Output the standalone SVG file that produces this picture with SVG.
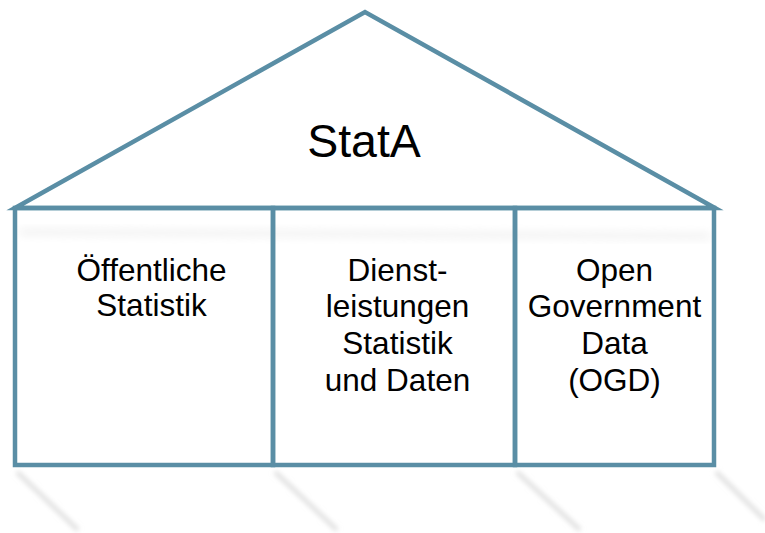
<svg xmlns="http://www.w3.org/2000/svg" width="765" height="533" viewBox="0 0 765 533">
  <defs>
    <style>
      .ln { fill: none; stroke: #5a8ea5; stroke-width: 4.5; stroke-linejoin: miter; stroke-linecap: square; }
      .tx { font-family: "Liberation Sans", Arial, sans-serif; font-size: 31.5px; fill: #000; text-anchor: middle; }
      .title { font-family: "Liberation Sans", Arial, sans-serif; font-size: 46.5px; fill: #000; text-anchor: middle; }
      .sh { stroke: #dcdcdc; stroke-width: 4; fill: none; filter: url(#blur); }
    </style>
    <filter id="blur" x="-50%" y="-50%" width="200%" height="200%">
      <feGaussianBlur stdDeviation="2.6"/>
    </filter>
    <filter id="blur2" x="-10%" y="-200%" width="120%" height="500%">
      <feGaussianBlur stdDeviation="4"/>
    </filter>
  </defs>
  <rect width="765" height="533" fill="#fff"/>

  <g id="reflections">
    <line class="sh" x1="17" y1="472" x2="78" y2="530"/>
    <line class="sh" x1="275" y1="472" x2="337" y2="530"/>
    <line class="sh" x1="517" y1="472" x2="580" y2="530"/>
    <line class="sh" x1="716" y1="472" x2="765" y2="520"/>
    <line x1="20" y1="232" x2="710" y2="236" stroke="#f0f0f0" stroke-width="6" filter="url(#blur2)"/>
  </g>

  <g id="roof">
    <polygon class="ln" points="15,208 365,12 715,208"/>
    <text class="title" x="364" y="157">StatA</text>
  </g>

  <g id="col-oeffentliche-statistik">
    <rect class="ln" x="15" y="208" width="258" height="257"/>
    <text class="tx" x="151.5" y="281">Öffentliche</text>
    <text class="tx" x="151.5" y="316">Statistik</text>
  </g>

  <g id="col-dienstleistungen">
    <rect class="ln" x="273" y="208" width="242" height="257"/>
    <text class="tx" x="397.5" y="281">Dienst-</text>
    <text class="tx" x="397.5" y="317">leistungen</text>
    <text class="tx" x="397.5" y="354">Statistik</text>
    <text class="tx" x="397.5" y="391">und Daten</text>
  </g>

  <g id="col-ogd">
    <rect class="ln" x="515" y="208" width="199" height="257"/>
    <text class="tx" x="614.5" y="281">Open</text>
    <text class="tx" x="614.5" y="317">Government</text>
    <text class="tx" x="614.5" y="354">Data</text>
    <text class="tx" x="614.5" y="391">(OGD)</text>
  </g>

  <g id="connectors"></g>
</svg>
